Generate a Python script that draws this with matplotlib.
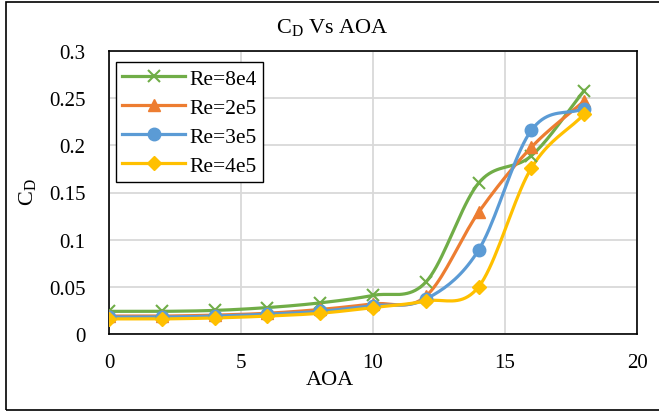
import numpy as np
import matplotlib.pyplot as plt
from matplotlib.lines import Line2D
from matplotlib.patches import Rectangle

plt.rcParams["font.family"] = ["Liberation Serif", "DejaVu Serif"]
plt.rcParams["mathtext.fontset"] = "custom"
plt.rcParams["mathtext.rm"] = "Liberation Serif"
plt.rcParams["mathtext.it"] = "Liberation Serif"

# data
aoa = [0, 2, 4, 6, 8, 10, 12, 14, 16, 18]
cd_8e4 = [0.024, 0.024, 0.025, 0.028, 0.033, 0.041, 0.055, 0.160, 0.189, 0.258]
cd_2e5 = [0.019, 0.019, 0.020, 0.022, 0.026, 0.032, 0.040, 0.129, 0.198, 0.247]
cd_3e5 = [0.018, 0.018, 0.019, 0.021, 0.024, 0.030, 0.037, 0.089, 0.216, 0.239]
cd_4e5 = [0.016, 0.016, 0.017, 0.019, 0.022, 0.028, 0.035, 0.050, 0.176, 0.233]

labels = ["Re=8e4", "Re=2e5", "Re=3e5", "Re=4e5"]
colors = ["#70AD47", "#ED7D31", "#5B9BD5", "#FFC000"]
markers = ["x", "^", "o", "D"]
msizes = [8, 8, 9, 7]


def smooth(x, y, n=20):
    # catmull-rom style smoothing like excel's smoothed lines
    x = np.asarray(x, float)
    y = np.asarray(y, float)
    px = np.concatenate([[2 * x[0] - x[1]], x, [2 * x[-1] - x[-2]]])
    py = np.concatenate([[2 * y[0] - y[1]], y, [2 * y[-1] - y[-2]]])
    xs, ys = [], []
    t = np.linspace(0, 1, n, endpoint=False)
    for i in range(1, len(px) - 2):
        p0, p1, p2, p3 = [np.array([px[j], py[j]]) for j in range(i - 1, i + 3)]
        c1 = p1 + (p2 - p0) / 6
        c2 = p2 - (p3 - p1) / 6
        for tt in t:
            b = ((1 - tt) ** 3) * p1 + 3 * ((1 - tt) ** 2) * tt * c1 \
                + 3 * (1 - tt) * tt ** 2 * c2 + tt ** 3 * p2
            xs.append(b[0])
            ys.append(b[1])
    xs.append(x[-1])
    ys.append(y[-1])
    return xs, ys


fig = plt.figure(figsize=(6.59, 4.14), dpi=100)
ax = fig.add_axes([109 / 659, 1 - 335 / 414, (637 - 109) / 659, (335 - 52) / 414])

handles = []
for ys, lab, c, m, ms in zip([cd_8e4, cd_2e5, cd_3e5, cd_4e5], labels, colors, markers, msizes):
    sx, sy = smooth(aoa, ys)
    ax.plot(sx, sy, color=c, lw=2.3, zorder=3)
    ax.plot(aoa, ys, ls="none", marker=m, color=c, ms=ms, mew=1.5 if m == "x" else 1, zorder=4)
    handles.append(Line2D([], [], color=c, lw=2.3, marker=m, ms=ms, mew=1.5 if m == "x" else 1))

ax.set_xlim(0, 20)
ax.set_ylim(0, 0.3)
ax.set_xticks([0, 5, 10, 15, 20])
ax.set_yticks([0, 0.05, 0.1, 0.15, 0.2, 0.25, 0.3])
ax.set_yticklabels(["0", "0.05", "0.1", "0.15", "0.2", "0.25", "0.3"])
ax.grid(True, color="#D9D9D9", lw=1.3)
ax.set_axisbelow(True)
ax.tick_params(length=0, labelsize=15)
ax.tick_params(axis="y", pad=17)
ax.tick_params(axis="x", pad=14)
for s in ax.spines.values():
    s.set_linewidth(1.2)
    s.set_color("black")

fig.text(332 / 659, 1 - 28 / 414, r"C$_\mathrm{D}$ Vs AOA", fontsize=16, ha="center", va="center")
fig.text(330 / 659, 1 - 381 / 414, "AOA", fontsize=16, ha="center", va="center")
fig.text(27 / 659, 1 - 192 / 414, r"C$_\mathrm{D}$", fontsize=16, ha="center", va="center",
         rotation=90)

leg = ax.legend(handles=handles, labels=labels, loc="upper left", fontsize=15.5,
                frameon=True, fancybox=False, edgecolor="black", framealpha=1,
                handlelength=2.9, handletextpad=0.2, borderpad=0.3,
                labelspacing=0.42, borderaxespad=0, bbox_to_anchor=(0.013, 0.961))
leg.get_frame().set_linewidth(1.0)

fig.patches.append(Rectangle((6 / 659, 3 / 414), 1.0, 408 / 414, transform=fig.transFigure,
                             fill=False, edgecolor="black", lw=1.2))

fig.savefig("out.png", dpi=100)
